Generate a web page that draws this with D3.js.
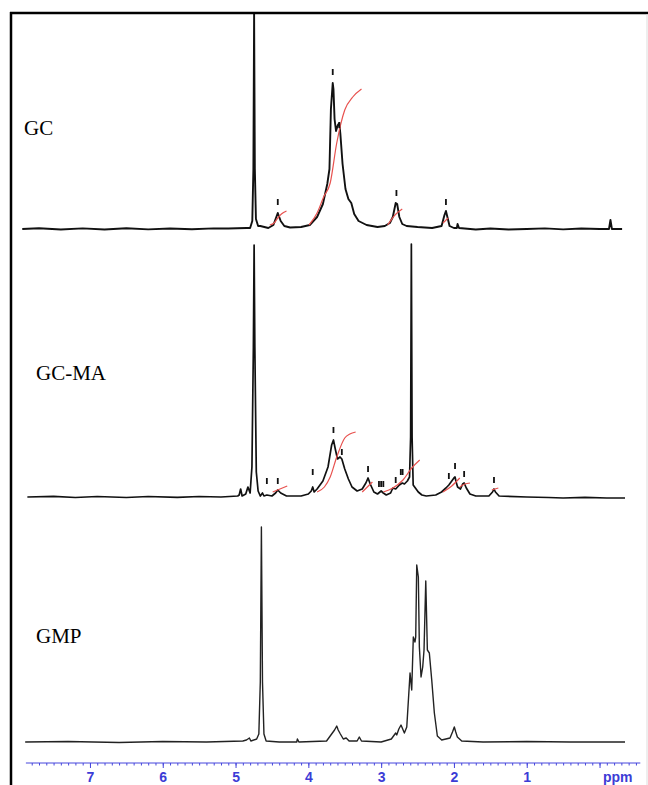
<!DOCTYPE html>
<html>
<head>
<meta charset="utf-8">
<script src="https://cdn.jsdelivr.net/npm/d3@7/dist/d3.min.js"></script>
<style>
body { margin: 0; background: #fff; }
svg { display: block; background: #fff; }
.spec { fill: none; stroke-linejoin: round; }
.integral { fill: none; stroke: #e8524f; stroke-width: 1.2; }
.mark { stroke: #111; stroke-width: 1.8; }
.label { font-family: "Liberation Serif", "Times New Roman", serif; font-size: 21px; fill: #000; }
.axis path, .axis line { stroke: #4646dc; }
.axis text { fill: #3c3cd6; font-family: "Liberation Sans", Arial, sans-serif; font-size: 14px; font-weight: bold; }
</style>
</head>
<body>
<svg id="chart" width="648" height="785"></svg>
<script>
// sample names, top to bottom
var sampleNames = ["GC", "GC-MA", "GMP"];
var ppmTicks = [7, 6, 5, 4, 3, 2, 1];

// spectra: [ppm, intensity]
var gcSpectrum = [
  [7.93, 0], [7.7, 0.8], [7.4, -0.5], [7.1, 0.6], [6.8, -0.5], [6.5, 0.7], [6.2, -0.4],
  [5.9, 0.5], [5.6, -0.3], [5.3, 0.6], [5.1, 0.5], [4.85, 1],
  [4.8, 1], [4.77, 8], [4.755, 60], [4.745, 215], [4.735, 60], [4.72, 10], [4.69, 3],
  [4.66, 3], [4.55, 1], [4.48, 4], [4.42, 16], [4.38, 8], [4.33, 3], [4.25, 1.5], [4.1, 2],
  [3.98, 4], [3.88, 12], [3.8, 25], [3.74, 45], [3.71, 60], [3.69, 120], [3.665, 146],
  [3.655, 140], [3.64, 110], [3.62, 98], [3.595, 104], [3.575, 106], [3.56, 95],
  [3.53, 65], [3.49, 40], [3.45, 30], [3.41, 26], [3.37, 15], [3.31, 8], [3.2, 4],
  [3.05, 2], [2.95, 3], [2.88, 6], [2.84, 12], [2.8, 26], [2.78, 25], [2.75, 12],
  [2.71, 5], [2.65, 3], [2.5, 2], [2.3, 1], [2.17, 3], [2.13, 14], [2.11, 18], [2.09, 12],
  [2.06, 3], [2.0, 1], [1.96, 1], [1.95, 5], [1.93, 1], [1.7, -0.5], [1.5, 0.5],
  [1.25, -0.5], [1.0, 0], [0.75, 0.6], [0.5, -0.4], [0.25, 0.5],
  [0.0, 0], [-0.13, 0], [-0.15, 9], [-0.17, 0], [-0.31, 0]
];
var gcmaSpectrum = [
  [7.86, 0], [7.5, 0.6], [7.2, -0.5], [6.9, 0.5], [6.5, -0.5], [6.2, 0.5], [5.8, -0.4],
  [5.5, 0.5], [5.2, 0], [4.97, 1], [4.95, 2],
  [4.93, 8], [4.91, 1], [4.86, 3], [4.83, 10], [4.8, 4], [4.775, 30], [4.755, 150],
  [4.745, 252], [4.735, 150], [4.715, 25], [4.69, 6], [4.66, 1], [4.63, 4], [4.61, 1],
  [4.57, 2], [4.5, 1], [4.45, 4], [4.42, 7], [4.38, 4], [4.3, 1], [4.1, 1], [4.0, 3],
  [3.96, 6], [3.94, 10], [3.92, 5], [3.88, 8], [3.8, 16], [3.73, 30], [3.68, 52],
  [3.655, 57], [3.63, 48], [3.6, 38], [3.565, 40], [3.54, 38], [3.5, 28], [3.45, 18],
  [3.4, 10], [3.33, 6], [3.26, 8], [3.21, 14], [3.18, 19], [3.15, 13], [3.1, 5],
  [3.05, 3], [3.0, 6], [2.97, 4], [2.93, 2], [2.87, 4], [2.84, 9], [2.8, 8], [2.75, 12],
  [2.71, 14], [2.68, 13], [2.64, 16], [2.61, 20], [2.595, 60], [2.585, 253], [2.575, 60],
  [2.56, 12], [2.53, 9], [2.49, 5], [2.44, 2], [2.38, 1], [2.25, 2], [2.17, 5],
  [2.11, 9], [2.07, 12], [2.04, 15], [2.0, 19], [1.985, 20], [1.97, 15], [1.95, 10],
  [1.91, 8], [1.88, 13], [1.86, 14], [1.83, 9], [1.78, 3], [1.7, 1], [1.52, 1],
  [1.47, 5], [1.45, 8], [1.43, 5], [1.38, 1], [1.0, 0], [0.7, -0.5], [0.5, -1],
  [0.2, -0.4], [-0.1, -1], [-0.35, -1]
];
var gmpSpectrum = [
  [7.89, 0], [7.3, 0.5], [6.6, -0.5], [6.0, 0.5], [5.4, 0], [4.9, 1], [4.85, 2],
  [4.81, 4], [4.79, 1], [4.71, 3], [4.68, 8], [4.66, 60], [4.645, 215], [4.63, 60],
  [4.61, 8], [4.58, 1], [4.4, 0], [4.16, 0], [4.15, 3], [4.13, 0], [3.75, 1], [3.68, 8],
  [3.64, 12], [3.61, 16], [3.59, 12], [3.56, 8], [3.52, 3], [3.48, 4], [3.44, 1],
  [3.33, 1], [3.3, 5], [3.27, 1], [3.0, 0], [2.86, 3], [2.8, 9], [2.786, 7],
  [2.757, 13], [2.727, 17], [2.681, 9], [2.648, 15], [2.603, 69], [2.58, 52],
  [2.558, 105], [2.535, 100], [2.525, 105], [2.511, 177], [2.489, 165], [2.475, 95],
  [2.452, 65], [2.429, 75], [2.411, 92], [2.387, 161], [2.365, 92], [2.338, 89],
  [2.305, 62], [2.269, 29], [2.228, 6], [2.168, 2], [2.054, 4], [2.02, 10], [1.995, 15],
  [1.975, 10], [1.953, 5], [1.893, 1], [1.6, 0], [1.0, 0.5], [0.4, 0], [-0.35, 0]
];

// peak markers: [ppm, intensity at lower end]
var gcMarks = [[4.42, 24], [3.665, 154], [3.575, 101], [2.79, 33], [2.11, 24]];
var gcmaMarks = [
  [4.57, 13], [4.42, 13], [3.94, 22], [3.655, 64], [3.54, 42], [3.18, 25],
  [3.03, 10], [3.0, 10], [2.97, 10], [2.8, 14], [2.73, 22], [2.705, 22],
  [2.07, 18], [1.985, 28], [1.86, 20], [1.45, 14]
];

// integral curves (red)
var gcIntegrals = [
  [[4.53, 4], [4.47, 6], [4.42, 11], [4.37, 15], [4.3, 18]],
  [[3.99, 4], [3.88, 16], [3.79, 32], [3.7, 46], [3.61, 86], [3.5, 119], [3.39, 132], [3.27, 140]],
  [[2.91, 4], [2.81, 14], [2.71, 20]],
  [[2.15, 6], [2.08, 11]]
];
var gcmaIntegrals = [
  [[4.49, 5], [4.39, 8], [4.29, 11]],
  [[3.88, 5], [3.78, 10], [3.7, 20], [3.61, 40], [3.5, 59], [3.43, 63], [3.35, 65]],
  [[3.26, 5], [3.19, 10], [3.12, 15]],
  [[2.97, 5], [2.84, 9], [2.7, 17], [2.58, 29], [2.47, 37]],
  [[2.15, 5], [2.03, 11], [1.92, 19]],
  [[1.92, 10], [1.85, 13], [1.78, 14]],
  [[1.48, 7], [1.39, 9]]
];

var svg = d3.select("#chart");

var x = d3.scaleLinear().domain([7.88, -0.56]).range([25.9, 640.3]);

var panels = [
  { name: sampleNames[0], data: gcSpectrum, marks: gcMarks, integrals: gcIntegrals,
    base: 229, lx: 24, ly: 135, color: "#111", width: 1.9 },
  { name: sampleNames[1], data: gcmaSpectrum, marks: gcmaMarks, integrals: gcmaIntegrals,
    base: 497, lx: 36, ly: 380, color: "#111", width: 1.7 },
  { name: sampleNames[2], data: gmpSpectrum, marks: [], integrals: [],
    base: 742, lx: 36, ly: 643, color: "#222", width: 1.4 }
];

svg.append("clipPath").attr("id", "clip")
  .append("rect").attr("x", 12).attr("y", 14).attr("width", 636).attr("height", 760);

panels.forEach(function(p) {
  var y = d3.scaleLinear().domain([0, 100]).range([p.base, p.base - 100]);
  var line = d3.line()
    .x(function(d) { return x(d[0]); })
    .y(function(d) { return y(d[1]); });
  var g = svg.append("g").attr("clip-path", "url(#clip)");

  g.append("path")
    .datum(p.data)
    .attr("class", "spec")
    .attr("stroke", p.color)
    .attr("stroke-width", p.width)
    .attr("d", line);

  var curve = d3.line()
    .x(function(d) { return x(d[0]); })
    .y(function(d) { return y(d[1]); })
    .curve(d3.curveMonotoneX);
  g.selectAll(".integral")
    .data(p.integrals)
    .enter().append("path")
    .attr("class", "integral")
    .attr("d", function(d) {
      // monotoneX wants ascending x
      return curve(d.slice().sort(function(a, b) { return b[0] - a[0]; }));
    });

  g.selectAll(".mark")
    .data(p.marks)
    .enter().append("line")
    .attr("class", "mark")
    .attr("x1", function(d) { return x(d[0]); })
    .attr("x2", function(d) { return x(d[0]); })
    .attr("y1", function(d) { return y(d[1]); })
    .attr("y2", function(d) { return y(d[1] + 6); });

  svg.append("text")
    .attr("class", "label")
    .attr("x", p.lx)
    .attr("y", p.ly)
    .text(p.name);
});

// ppm axis
var axisY = 763;
var minor = d3.range(78, -6, -1).map(function(d) { return d / 10; });
svg.append("g")
  .attr("class", "axis")
  .attr("transform", "translate(0," + axisY + ")")
  .call(d3.axisBottom(x).tickValues(minor).tickSize(2.5).tickFormat(""))
  .call(function(g) { g.select(".domain").remove(); });

svg.append("g")
  .attr("class", "axis")
  .attr("transform", "translate(0," + axisY + ")")
  .call(d3.axisBottom(x).tickValues([0].concat(ppmTicks)).tickSize(5).tickPadding(4)
    .tickFormat(function(d) { return d === 0 ? "" : d; }))
  .call(function(g) {
    g.select(".domain").attr("d", "M" + x.range()[0] + ",0H" + x.range()[1]);
  });

svg.append("text")
  .attr("x", x(-0.25))
  .attr("y", axisY + 19)
  .attr("text-anchor", "middle")
  .attr("fill", "#3c3cd6")
  .style("font-family", "Liberation Sans, Arial, sans-serif")
  .style("font-size", "14px")
  .style("font-weight", "bold")
  .text("ppm");

// frame
svg.append("line").attr("x1", 11).attr("x2", 11).attr("y1", 12).attr("y2", 785)
  .attr("stroke", "#000").attr("stroke-width", 2.5);
svg.append("line").attr("x1", 10).attr("x2", 648).attr("y1", 13).attr("y2", 13)
  .attr("stroke", "#000").attr("stroke-width", 2.5);
svg.append("line").attr("x1", 647).attr("x2", 647).attr("y1", 14).attr("y2", 785)
  .attr("stroke", "#ddd").attr("stroke-width", 1);
</script>
</body>
</html>
